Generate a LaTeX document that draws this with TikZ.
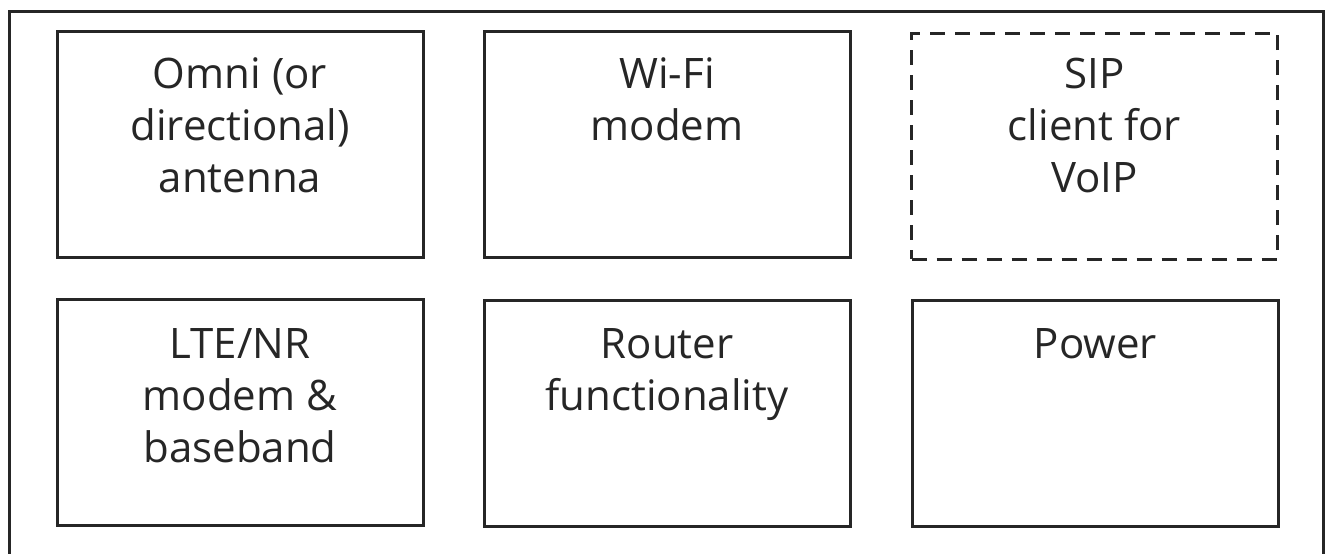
\documentclass[tikz,border=0pt]{standalone}
\usepackage{fontspec}
\setmainfont{Open Sans}
\begin{document}
\begin{tikzpicture}[x=1pt,y=-1pt,
  blk/.style={draw=black!85,line width=3pt,inner sep=0pt,minimum width=366pt,minimum height=226pt},
  dblk/.style={blk,dashed,dash pattern=on 15pt off 10pt},
  lbl/.style={inner sep=0pt,align=center,anchor=base,font=\fontsize{42}{52}\selectfont,text=black!85}]
\useasboundingbox (0,0) rectangle (1326,554);
\draw[black!85,line width=3pt] (9,11) rectangle (1323,556);
\node[blk] (b1) at (240,144) {};
\node[blk] (b2) at (667,144) {};
\node[dblk] (b3) at (1094.5,146) {};
\node[blk] (b4) at (240,412) {};
\node[blk] (b5) at (667,413) {};
\node[blk] (b6) at (1095.5,413) {};
\node[lbl] (t1) at (240,192) {Omni (or\\directional)\\antenna};
\node[lbl] (t2) at (667,140) {Wi-Fi\\modem};
\node[lbl] (t3) at (1094.5,192) {SIP\\client for\\VoIP};
\node[lbl] (t4) at (240,462) {LTE/NR\\modem \&\\baseband};
\node[lbl] (t5) at (667,410) {Router\\functionality};
\node[lbl] (t6) at (1095.5,358) {Power};
\end{tikzpicture}
\end{document}
